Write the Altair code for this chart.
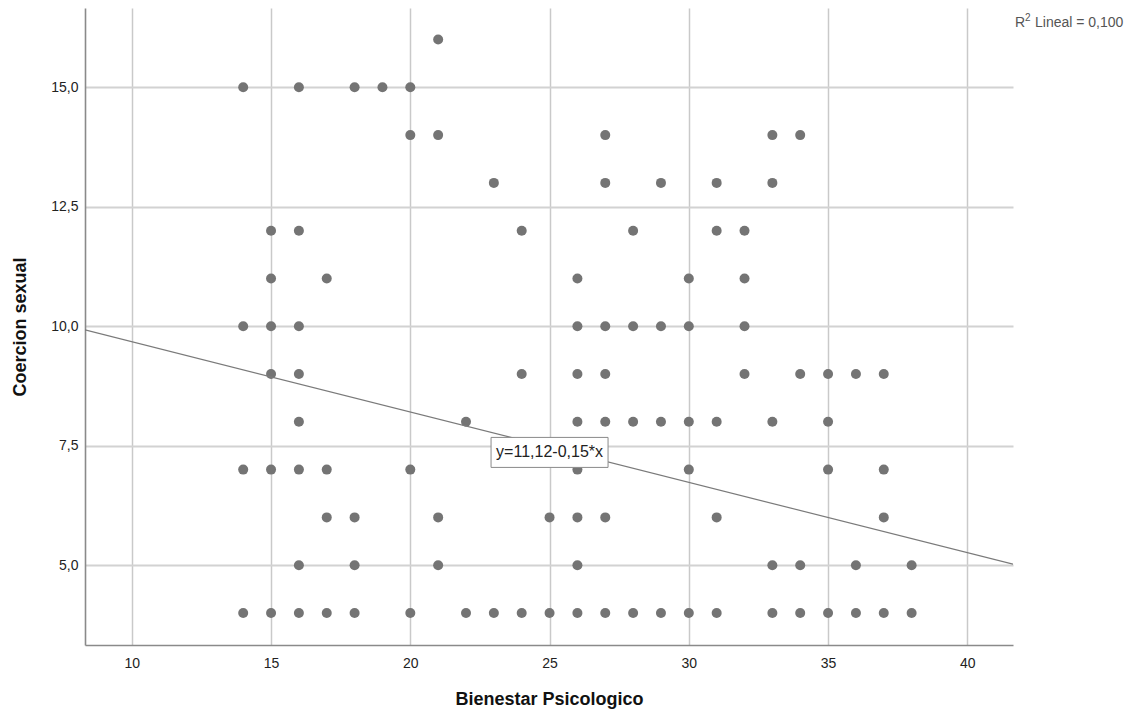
import altair as alt
import pandas as pd

# Coercion sexual value -> list of Bienestar Psicologico values
y16 = [21]
y15 = [14, 16, 18, 19, 20]
y14 = [20, 21, 27, 33, 34]
y13 = [23, 27, 29, 31, 33]
y12 = [15, 16, 24, 28, 31, 32]
y11 = [15, 17, 26, 30, 32]
y10 = [14, 15, 16, 26, 27, 28, 29, 30, 32]
y9 = [15, 16, 24, 26, 27, 32, 34, 35, 36, 37]
y8 = [16, 22, 26, 27, 28, 29, 30, 31, 33, 35]
y7 = [14, 15, 16, 17, 20, 26, 30, 35, 37]
y6 = [17, 18, 21, 25, 26, 27, 31, 37]
y5 = [16, 18, 21, 26, 33, 34, 36, 38]
y4 = [14, 15, 16, 17, 18, 20, 22, 23, 24, 25, 26, 27, 28, 29, 30, 31, 33, 34, 35, 36, 37, 38]

rows_by_y = {16: y16, 15: y15, 14: y14, 13: y13, 12: y12, 11: y11, 10: y10,
             9: y9, 8: y8, 7: y7, 6: y6, 5: y5, 4: y4}

x_ticks = [10, 15, 20, 25, 30, 35, 40]
y_ticks = [5, 7.5, 10, 12.5, 15]
x_domain = [8.32, 41.64]
y_domain = [3.33, 16.66]

fit_intercept = 11.15
fit_slope = -0.1472
eq_text = "y=11,12-0,15*x"
eq_pos = (25.0, 7.36)
r2_main = "R"
r2_sup = "2"
r2_rest = "Lineal = 0,100"

FONT = "Liberation Sans"

pts = pd.DataFrame([{"x": x, "y": y} for y, xs in rows_by_y.items() for x in xs])
line_df = pd.DataFrame({"x": x_domain,
                        "y": [fit_intercept + fit_slope * v for v in x_domain]})
eq_df = pd.DataFrame({"x": [eq_pos[0]], "y": [eq_pos[1]], "t": [eq_text]})
r2a_df = pd.DataFrame({"t": [r2_main]})
r2b_df = pd.DataFrame({"t": [r2_sup]})
r2c_df = pd.DataFrame({"t": [r2_rest]})

xs = alt.Scale(domain=x_domain, nice=False, zero=False)
ys = alt.Scale(domain=y_domain, nice=False, zero=False)

x_axis = alt.Axis(values=x_ticks, title="Bienestar Psicologico", ticks=False, tickSize=0,
                  labelPadding=11, labelFontSize=14, labelFont=FONT, labelColor="#222222",
                  titleFont=FONT, titleFontSize=18, titleFontWeight="bold", titleColor="#111111",
                  titlePadding=20, grid=True, gridColor="#c9c9c9", gridWidth=1.5,
                  domainColor="#8a8a8a", domainWidth=1.6)
y_axis = alt.Axis(values=y_ticks, title="Coercion sexual", ticks=False, tickSize=0,
                  labelExpr="replace(format(datum.value, '.1f'), '.', ',')",
                  labelPadding=7, labelFontSize=14, labelFont=FONT, labelColor="#222222",
                  titleFont=FONT, titleFontSize=18, titleFontWeight="bold", titleColor="#111111",
                  titlePadding=21, grid=True, gridColor="#d2d2d2", gridWidth=1.8,
                  domainColor="#8a8a8a", domainWidth=1.6)

points = alt.Chart(pts).mark_circle(size=100, color="#747474", opacity=1).encode(
    x=alt.X("x:Q", scale=xs, axis=x_axis),
    y=alt.Y("y:Q", scale=ys, axis=y_axis),
)

fit = alt.Chart(line_df).mark_line(color="#7a7a7a", strokeWidth=1.2, clip=True).encode(
    x=alt.X("x:Q", scale=xs), y=alt.Y("y:Q", scale=ys)
)

box = alt.Chart(eq_df).mark_point(
    shape="M-1,-0.2564L1,-0.2564L1,0.2564L-1,0.2564Z", size=13689,
    filled=True, fill="white", stroke="#8a8a8a", strokeWidth=1, opacity=1
).encode(x=alt.X("x:Q", scale=xs), y=alt.Y("y:Q", scale=ys))

eq = alt.Chart(eq_df).mark_text(font=FONT, fontSize=16, color="#222222",
                                align="center", baseline="middle").encode(
    x=alt.X("x:Q", scale=xs), y=alt.Y("y:Q", scale=ys), text="t:N"
)

r2a = alt.Chart(r2a_df).mark_text(font=FONT, fontSize=14, color="#555555",
                                  align="left", baseline="alphabetic").encode(
    x=alt.value(930), y=alt.value(19), text="t:N"
)
r2b = alt.Chart(r2b_df).mark_text(font=FONT, fontSize=10, color="#555555",
                                  align="left", baseline="alphabetic").encode(
    x=alt.value(940), y=alt.value(13), text="t:N"
)
r2c = alt.Chart(r2c_df).mark_text(font=FONT, fontSize=14, color="#555555",
                                  align="left", baseline="alphabetic").encode(
    x=alt.value(950), y=alt.value(19), text="t:N"
)

chart = alt.layer(points, fit, box, eq, r2a, r2b, r2c).properties(
    width=928, height=637,
    view=alt.ViewBackground(strokeWidth=0, strokeOpacity=0, stroke="transparent"),
    autosize=alt.AutoSizeParams(type="none"),
    padding={"left": 77, "top": 0, "right": 115, "bottom": 70},
).configure_view(strokeWidth=0, strokeOpacity=0, stroke="transparent").configure(background="white")

chart.save("out.html", embed_options={"renderer": "svg", "actions": False})
